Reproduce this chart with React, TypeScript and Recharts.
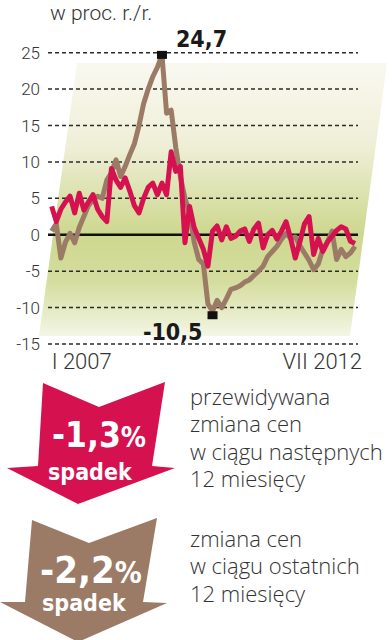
import React from 'react';
import { LineChart, Line, XAxis, YAxis, CartesianGrid, ReferenceLine } from 'recharts';

// monthly data, I 2007 – VII 2012 (67 months), in % y/y
const expected = [
  3.9, 1.8, 3.5, 4.5, 5.3, 3.0, 5.7, 3.4, 4.5, 5.5,
  3.5, 2.5, 1.8, 9.1, 7.5, 6.5, 7.8, 6.0, 4.0, 3.0,
  5.0, 6.5, 7.1, 5.5, 7.1, 5.5, 11.4, 8.7, 9.4, -1.1,
  3.9, 1.0, -0.5, -2.0, -4.3, 0.5, 1.2, -0.7, 1.1, -0.5,
  -0.2, 0.5, 0.8, -0.9, 0.8, 1.6, -1.8, 0.0, 0.6, -0.6,
  0.5, 1.8, -0.5, -3.2, -1.0, 1.5, 2.5, -2.7, -0.5, -2.3,
  -1.0, -0.2, 0.6, 1.1, 0.8, -0.9, -1.2,
];
const actual = [
  0.5, 1.5, -3.2, -1.0, 0.2, -1.1, 1.0, 2.5, 4.0, 4.8,
  5.3, 5.0, 7.5, 8.5, 10.3, 8.0, 9.4, 11.0, 12.5, 15.0,
  18.0, 20.0, 21.7, 23.0, 24.7, 16.7, 17.1, 12.0, 8.0, 5.0,
  3.0, -1.0, -3.4, -4.0, -9.5, -10.5, -9.0, -10.0, -8.8, -7.5,
  -7.3, -7.0, -6.5, -6.2, -5.6, -5.0, -4.3, -3.0, -2.3, -1.6,
  -0.6, 0.2, -0.5, -0.3, -1.5, -2.5, -3.5, -4.8, -4.0, -2.0,
  -1.0, 0.5, -3.4, -2.0, -3.0, -2.5, -1.6,
];
const yTicks = [-15, -10, -5, 0, 5, 10, 15, 20, 25];
const xTickLabels = ['I 2007', 'VII 2012'];

const data = actual.map((v, i) => ({ i, actual: v, expected: expected[i] }));
const last = data.length - 1;
const peakIdx = actual.indexOf(Math.max(...actual));
const troughIdx = actual.indexOf(Math.min(...actual));
const fmt = (v: number) => v.toString().replace('.', ',');

const RED = '#d5124f';
const BROWN = '#9b7a66';
const TEXT = '#333333';
const BOLD = "'DejaVu Sans Condensed', 'Liberation Sans Narrow', sans-serif";
const LIGHT = "Roboto, 'Open Sans', sans-serif";
const WIDE = "'Open Sans', Roboto, sans-serif";

const ExtremeDot = (props: any) => {
  const { cx, cy, index } = props;
  if (index === peakIdx) {
    return (
      <g key="peak">
        <rect x={cx - 5} y={cy - 4} width={10} height={8} fill="#111" />
        <text x={cx + 14} y={cy - 8} fontFamily={BOLD} fontWeight="bold" fontSize={23} fill="#1a1a1a">
          {fmt(actual[index])}
        </text>
      </g>
    );
  }
  if (index === troughIdx) {
    return (
      <g key="trough">
        <rect x={cx - 5} y={cy} width={10} height={8} fill="#111" />
        <text x={cx - 10} y={cy + 29} textAnchor="end" fontFamily={BOLD} fontWeight="bold" fontSize={23} fill="#1a1a1a">
          {fmt(actual[index])}
        </text>
      </g>
    );
  }
  return <g key={`d-${index}`} />;
};

const XTick = (props: any) => {
  const { x, y, payload } = props;
  const first = payload.value === 0;
  return (
    <text
      x={first ? x : x + 7}
      y={y + 17}
      textAnchor={first ? 'start' : 'end'}
      fontFamily={LIGHT}
      fontWeight={300}
      fontSize={22}
      fill={TEXT}
    >
      {first ? xTickLabels[0] : xTickLabels[1]}
    </text>
  );
};

const Para = ({ x, y, lines }: { x: number; y: number; lines: string[] }) => (
  <>
    {lines.map((t, k) => (
      <text key={k} x={x} y={y + k * 27.3} fontFamily={WIDE} fontWeight={300} fontSize={22} fill={TEXT}>
        {t}
      </text>
    ))}
  </>
);

const App = () => {
  return (
    <div style={{ position: 'absolute', left: 0, top: 0, width: 392, height: 640, background: '#fff', overflow: 'hidden' }}>
      <svg width={392} height={380} style={{ position: 'absolute', left: 0, top: 0 }}>
        <defs>
          <linearGradient id="bg" x1="0" y1="0" x2="0" y2="1">
            <stop offset="0" stopColor="#f9f8f0" />
            <stop offset="0.3" stopColor="#efefd8" />
            <stop offset="0.62" stopColor="#cdd88f" />
            <stop offset="0.8" stopColor="#d4dd9e" />
            <stop offset="1" stopColor="#f4f6e6" />
          </linearGradient>
        </defs>
        <polygon points="77,63 387,63 350,336 39,336" fill="url(#bg)" />
        <text x={50} y={20} fontFamily={LIGHT} fontWeight={300} fontSize={21} fill={TEXT}>
          w proc. r./r.
        </text>
      </svg>

      <div style={{ position: 'absolute', left: 0, top: 0 }}>
        <LineChart width={392} height={380} data={data} margin={{ top: 52.7, right: 34, bottom: 6, left: 8 }}>
          <CartesianGrid vertical={false} stroke="#2b2b2b" strokeWidth={1.5} strokeDasharray="4 3" />
          <XAxis
            type="number"
            dataKey="i"
            domain={[-0.8, 66.65]}
            ticks={[0, last]}
            tick={<XTick />}
            axisLine={false}
            tickLine={false}
            height={30}
            allowDataOverflow
          />
          <YAxis
            type="number"
            domain={[-15, 25]}
            ticks={yTicks}
            width={40}
            axisLine={false}
            tickLine={false}
            tick={{ fontFamily: LIGHT, fontWeight: 300, fontSize: 17, fill: TEXT }}
          />
          <ReferenceLine y={0} stroke="#111" strokeWidth={2.5} />
          <Line
            type="linear"
            dataKey="actual"
            stroke={BROWN}
            strokeWidth={5}
            strokeLinejoin="round"
            dot={<ExtremeDot />}
            activeDot={false}
            isAnimationActive={false}
          />
          <Line
            type="linear"
            dataKey="expected"
            stroke={RED}
            strokeWidth={5}
            strokeLinejoin="round"
            dot={false}
            activeDot={false}
            isAnimationActive={false}
          />
        </LineChart>
      </div>

      <svg width={392} height={640} style={{ position: 'absolute', left: 0, top: 0, pointerEvents: 'none' }}>
        <polygon points="43,383 99,407 165,382 152,466 175,468 78,504 7,468 38,466" fill={RED} />
        <text x={52} y={447} fontFamily={BOLD} fontWeight="bold" fontSize={35} fill="#fff">
          -1,3<tspan fontSize={28}>%</tspan>
        </text>
        <text x={48} y={480} fontFamily={BOLD} fontWeight="bold" fontSize={23} fill="#fff">
          spadek
        </text>
        <Para x={190} y={405} lines={['przewidywana', 'zmiana cen', 'w ciągu następnych', '12 miesięcy']} />

        <polygon points="32,520 89,543 157,518 143,602 167,603 78,642 0,602 25,602" fill={BROWN} />
        <text x={40} y={583} fontFamily={BOLD} fontWeight="bold" fontSize={38} fill="#fff">
          -2,2<tspan fontSize={30}>%</tspan>
        </text>
        <text x={42} y={611} fontFamily={BOLD} fontWeight="bold" fontSize={23} fill="#fff">
          spadek
        </text>
        <Para x={190} y={547} lines={['zmiana cen', 'w ciągu ostatnich', '12 miesięcy']} />
      </svg>
    </div>
  );
};

export default App;
